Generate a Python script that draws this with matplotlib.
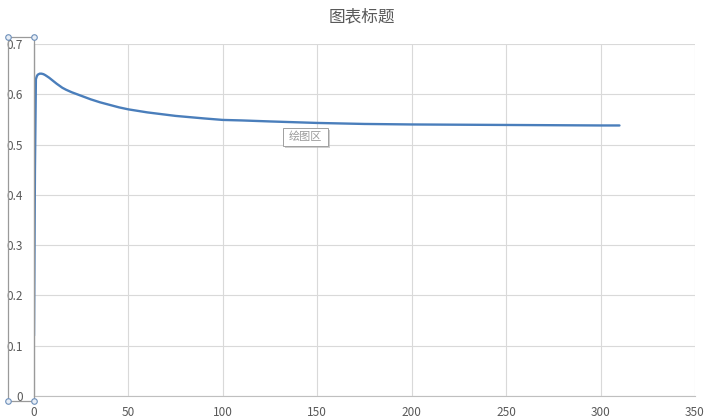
import numpy as np
import matplotlib
matplotlib.use("Agg")
import matplotlib.pyplot as plt
from matplotlib.patches import Rectangle, FancyBboxPatch

plt.rcParams['font.family'] = ['Noto Sans CJK SC', 'DejaVu Sans']

# Data
time = [0, 0.5, 1, 1.5, 2, 3, 4, 5, 6, 8, 10, 12, 15, 17, 20, 25, 30, 35,
        40, 45, 50, 60, 75, 90, 100, 110, 125, 150, 175, 200, 250, 300, 310]
value = [0.12, 0.45, 0.63, 0.636, 0.639, 0.641, 0.641, 0.640, 0.638, 0.633,
         0.627, 0.621, 0.613, 0.609, 0.604, 0.597, 0.590, 0.584, 0.579,
         0.574, 0.570, 0.564, 0.557, 0.552, 0.549, 0.548, 0.546, 0.543,
         0.541, 0.540, 0.539, 0.538, 0.538]
xticks = [0, 50, 100, 150, 200, 250, 300, 350]
yticks = [0, 0.1, 0.2, 0.3, 0.4, 0.5, 0.6, 0.7]
ylabels = ["0", "0.1", "0.2", "0.3", "0.4", "0.5", "0.6", "0.7"]
title = "图表标题"
tip = "绘图区"

W, H = 711, 420
fig = plt.figure(figsize=(W / 100, H / 100), dpi=100)
ax = fig.add_axes([34 / W, (H - 396) / H, (695 - 34) / W, (396 - 44) / H])

grid_c = "#d9d9d9"
text_c = "#595959"

ax.plot(time, value, color="#4a7ebb", lw=1.7, solid_capstyle="round",
        solid_joinstyle="round")

ax.set_xlim(0, 350)
ax.set_ylim(0, 0.7)
ax.set_xticks(xticks)
ax.set_yticks(yticks)
ax.set_yticklabels(ylabels)
ax.grid(True, color=grid_c, lw=0.8)
ax.set_axisbelow(True)
for s in ["top", "right"]:
    ax.spines[s].set_visible(False)
ax.spines["bottom"].set_color("#bfbfbf")
ax.spines["left"].set_color("#8c8c8c")
ax.tick_params(length=0, labelsize=8.5, labelcolor=text_c)
ax.tick_params(axis="y", pad=8)
ax.tick_params(axis="x", pad=7)

fig.text(362 / W, 1 - 17 / H, title, ha="center", va="center",
         fontsize=12, color=text_c)

# selection frame around the vertical axis
x0, x1, y0, y1 = 8 / W, 34 / W, 1 - 401 / H, 1 - 37 / H
fig.patches.append(Rectangle((x0, y0), x1 - x0, y1 - y0, transform=fig.transFigure,
                             fill=False, ec="#9a9a9a", lw=0.9))
for cx in (x0, x1):
    for cy in (y0, y1):
        fig.add_artist(plt.Line2D([cx], [cy], marker="o", ms=4, mfc="#e8eef6",
                                  mec="#6d8fba", mew=0.8, transform=fig.transFigure))

# tooltip
bx, by, bw, bh = 283 / W, 1 - 146 / H, 45 / W, 18 / H
fig.patches.append(FancyBboxPatch((bx + 2 / W, by - 2 / H), bw, bh, transform=fig.transFigure,
                                  boxstyle="square,pad=0", fc="#b0b0b0", ec="none", alpha=0.6))
fig.patches.append(FancyBboxPatch((bx, by), bw, bh, transform=fig.transFigure,
                                  boxstyle="square,pad=0", fc="white", ec="#a0a0a0", lw=0.7))
fig.text(bx + bw / 2, by + bh / 2, tip, ha="center", va="center", fontsize=8, color="#9a9a9a")

fig.savefig("out.png", dpi=100)
